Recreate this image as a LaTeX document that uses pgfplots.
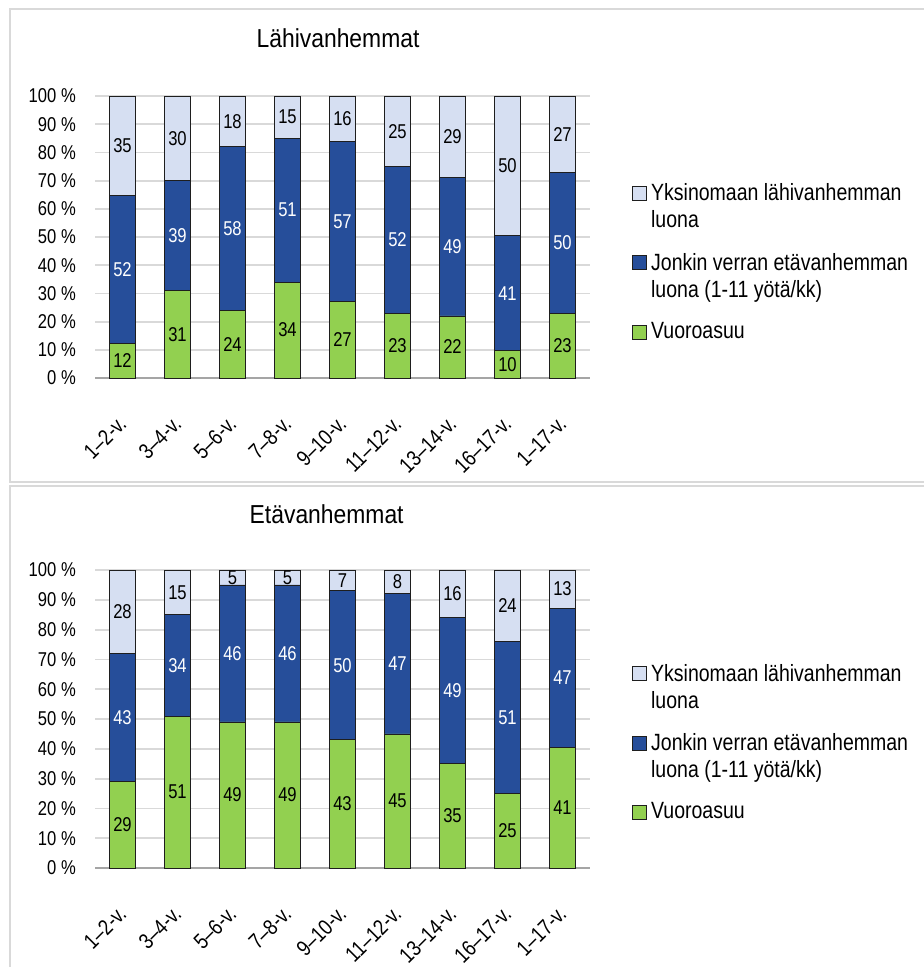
\documentclass[border=0pt]{standalone}
\usepackage{pgfplots}
\pgfplotsset{compat=1.18}
\usepackage{pgfplotstable}
\usepackage{fontspec}
\setmainfont{Liberation Sans}[FakeStretch=0.83]
\newfontfamily\titlefont{Liberation Sans}[FakeStretch=0.88]
\definecolor{lightc}{RGB}{214,223,242}
\definecolor{bluec}{RGB}{38,78,154}
\definecolor{greenc}{RGB}{146,208,80}
\definecolor{gridc}{RGB}{217,217,217}
\definecolor{axisc}{RGB}{165,165,165}
\definecolor{framec}{RGB}{217,217,217}
\definecolor{edgec}{RGB}{30,30,30}

\pgfplotstableread{
x va jv yk
0 12.4 52.4 35.2
1 31 39 30
2 24 58 18
3 34 51 15
4 27 57 16
5 23 52 25
6 22 49 29
7 9.8 40.6 49.6
8 23 50 27
}\topdata
\pgfplotstableread{
x va jv yk
0 29 43 28
1 51 34 15
2 49 46 5
3 49 46 5
4 43 50 7
5 45 47 8
6 35 49 16
7 25 51 24
8 40.6 46.6 12.8
}\botdata
\pgfplotstablecreatecol[create col/expr={\thisrow{va}/2}]{gm}\topdata
\pgfplotstablecreatecol[create col/expr={\thisrow{va}+\thisrow{jv}/2}]{bm}\topdata
\pgfplotstablecreatecol[create col/expr={\thisrow{va}+\thisrow{jv}+\thisrow{yk}/2}]{lm}\topdata
\pgfplotstablecreatecol[create col/expr={\thisrow{va}/2}]{gm}\botdata
\pgfplotstablecreatecol[create col/expr={\thisrow{va}+\thisrow{jv}/2}]{bm}\botdata
\pgfplotstablecreatecol[create col/expr={\thisrow{va}+\thisrow{jv}+\thisrow{yk}/2}]{lm}\botdata

\newcommand\tickfont{\fontsize{20}{23}\selectfont}
\newcommand\xtickfont{\fontsize{22}{25}\selectfont}
\newcommand\legfont{\fontsize{23.5}{27}\selectfont}

\pgfplotsset{
  panel/.style={
    scale only axis, width=495pt,
    anchor=south west,
    xmin=-0.5, xmax=8.5, ymin=0, ymax=100,
  },
  barpanel/.style={
    panel,
    ybar stacked, bar width=26pt,
    xtick={0,...,8},
    xticklabels={1–2-v.,3–4-v.,5–6-v.,7–8-v.,9–10-v.,11–12-v.,13–14-v.,16–17-v.,1–17-v.},
    ytick={0,10,...,100},
    yticklabels={0 \%,10 \%,20 \%,30 \%,40 \%,50 \%,60 \%,70 \%,80 \%,90 \%,100 \%},
    major tick length=0pt,
    axis x line*=bottom, axis y line*=left,
    y axis line style={draw=none},
    x axis line style={draw=axisc, line width=2pt},
    ymajorgrids, grid style={draw=gridc, line width=1.8pt},
    xticklabel style={font=\xtickfont, inner sep=0pt, xshift=0pt, yshift=-42pt, rotate=45, anchor=east},
    yticklabel style={font=\tickfont, inner sep=0pt, xshift=-19pt, anchor=east},
    title style={font=\titlefont\fontsize{26}{30}\selectfont, anchor=base, inner sep=0pt},
    legend style={draw=none, fill=none, inner sep=0pt, font=\legfont, row sep=25pt, column sep=4pt,
      cells={anchor=north west, align=left},
      nodes={anchor=north west, align=left, inner sep=0pt, text depth=0pt}},
    reverse legend,
  },
  lbox/.style={legend image code/.code={\draw[##1, line width=1pt] (0pt,-17pt) rectangle (14pt,-3pt);}},
  labelpanel/.style={panel, hide axis},
  lab/.style={draw=none, mark=none,
    nodes near coords={\pgfmathprintnumber[fixed,precision=0,assume math mode=true]{\pgfplotspointmeta}},
    point meta=explicit,
    every node near coord/.style={anchor=center, font=\tickfont, text=#1, inner sep=0pt}},
}

\begin{document}
\begin{tikzpicture}
\draw[framec, line width=2pt] (10pt,-9pt) rectangle (940pt,-482pt);
\draw[framec, line width=2pt] (10pt,-486pt) rectangle (940pt,-990pt);

% ---------- top panel ----------
\begin{axis}[barpanel, at={(95pt,-378pt)}, height=282pt,
  title={Lähivanhemmat}, title style={at={(0.491,1)}, yshift=43pt},
  legend style={at={(1.0848,0.69)}, anchor=north west}]
\addplot[fill=greenc, draw=edgec, line width=0.8pt, lbox] table[x=x,y=va]{\topdata};
\addlegendentry{Vuoroasuu}
\addplot[fill=bluec, draw=edgec, line width=0.8pt, lbox] table[x=x,y=jv]{\topdata};
\addlegendentry{Jonkin verran etävanhemman\\luona (1-11 yötä/kk)}
\addplot[fill=lightc, draw=edgec, line width=0.8pt, lbox] table[x=x,y=yk]{\topdata};
\addlegendentry{Yksinomaan lähivanhemman\\luona}
\end{axis}
\begin{axis}[labelpanel, at={(95pt,-378pt)}, height=282pt]
\addplot[lab=black] table[x=x,y=gm,meta=va]{\topdata};
\addplot[lab=white] table[x=x,y=bm,meta=jv]{\topdata};
\addplot[lab=black] table[x=x,y=lm,meta=yk]{\topdata};
\end{axis}

% ---------- bottom panel ----------
\begin{axis}[barpanel, at={(95pt,-868pt)}, height=298pt,
  title={Etävanhemmat}, title style={at={(0.468,1)}, yshift=41pt},
  legend style={at={(1.0848,0.686)}, anchor=north west}]
\addplot[fill=greenc, draw=edgec, line width=0.8pt, lbox] table[x=x,y=va]{\botdata};
\addlegendentry{Vuoroasuu}
\addplot[fill=bluec, draw=edgec, line width=0.8pt, lbox] table[x=x,y=jv]{\botdata};
\addlegendentry{Jonkin verran etävanhemman\\luona (1-11 yötä/kk)}
\addplot[fill=lightc, draw=edgec, line width=0.8pt, lbox] table[x=x,y=yk]{\botdata};
\addlegendentry{Yksinomaan lähivanhemman\\luona}
\end{axis}
\begin{axis}[labelpanel, at={(95pt,-868pt)}, height=298pt]
\addplot[lab=black] table[x=x,y=gm,meta=va]{\botdata};
\addplot[lab=white] table[x=x,y=bm,meta=jv]{\botdata};
\addplot[lab=black] table[x=x,y=lm,meta=yk]{\botdata};
\end{axis}

\pgfresetboundingbox
\useasboundingbox (0pt,0pt) rectangle (924pt,-967pt);
\end{tikzpicture}
\end{document}
